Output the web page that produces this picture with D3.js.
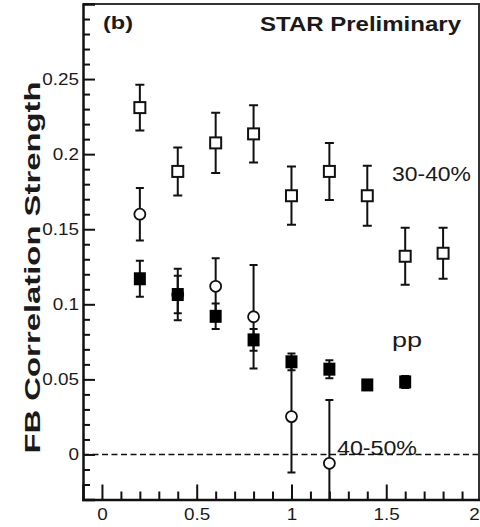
<!DOCTYPE html>
<html>
<head>
<meta charset="utf-8">
<script src="https://cdn.jsdelivr.net/npm/d3@7"></script>
<style>
  body { margin: 0; background: #fff; }
  svg text { font-family: "Liberation Sans", Arial, sans-serif; fill: #1a1a1a; }
</style>
</head>
<body>
<script>
// data
const xCentral = [0.2, 0.4, 0.6, 0.8, 1.0, 1.2, 1.4, 1.6, 1.8]
const yCentral = [0.231, 0.1885, 0.2075, 0.2135, 0.1723, 0.1885, 0.1723, 0.132, 0.134]
const eCentral = [0.0153, 0.016, 0.02, 0.019, 0.0194, 0.019, 0.02, 0.019, 0.017]

const xPP = [0.2, 0.4, 0.6, 0.8, 1.0, 1.2, 1.4, 1.6]
const yPP = [0.117, 0.1065, 0.092, 0.0763, 0.0617, 0.0568, 0.0463, 0.0483]
const ePP = [0.012, 0.0125, 0.0085, 0.0072, 0.0056, 0.006, 0.003, 0.004]

const xPeri = [0.2, 0.4, 0.6, 0.8, 1.0, 1.2]
const yPeri = [0.160, 0.1065, 0.112, 0.0917, 0.0252, -0.0059]
const ePeri = [0.0175, 0.0172, 0.0186, 0.0344, 0.0373, 0.0422]

const xMajor = [0, 0.5, 1, 1.5, 2]
const yMajor = [0, 0.05, 0.1, 0.15, 0.2, 0.25]

const w = 480, h = 527
const padL = 83, padT = 4, axisY = 499.5, padR = 479

const svg = d3.select('body').append('svg')
  .attr('width', w).attr('height', h)

const x = d3.scaleLinear().domain([-0.1, 2.0]).range([padL, 481])
const y = d3.scaleLinear().domain([-0.03, 0.3]).range([axisY, padT])

svg.append('clipPath').attr('id', 'plot')
  .append('rect').attr('x', padL).attr('y', padT).attr('width', padR - padL).attr('height', axisY - padT)

// zero line
svg.append('line')
  .attr('x1', padL).attr('x2', padR)
  .attr('y1', y(0)).attr('y2', y(0))
  .attr('stroke', '#111').attr('stroke-width', 1.5)
  .attr('stroke-dasharray', '6,3.5')

// frame (top and right)
svg.append('path')
  .attr('d', `M${padL},${padT}H${padR}V${axisY}`)
  .attr('fill', 'none').attr('stroke', '#333').attr('stroke-width', 2)

// axes, ticks pointing inward
const fmt = d => d === 0 ? '0' : d3.format('~g')(d)
svg.append('g').attr('transform', `translate(${padL},0)`)
  .call(d3.axisLeft(y).tickValues(yMajor).tickSize(-12).tickPadding(4).tickFormat(fmt))
svg.append('g').attr('transform', `translate(${padL},0)`)
  .call(d3.axisLeft(y).tickValues(d3.range(-0.03, 0.295, 0.01).filter(v => Math.abs(Math.round(v * 100) % 5) !== 0)).tickSize(-7).tickFormat(''))
  .select('.domain').remove()

const gx = svg.append('g').attr('transform', `translate(0,${axisY})`)
  .call(d3.axisBottom(x).tickValues(xMajor).tickSize(-15).tickPadding(9).tickFormat(fmt))
svg.append('g').attr('transform', `translate(0,${axisY})`)
  .call(d3.axisBottom(x).tickValues(d3.range(0.1, 2.0, 0.1).filter(v => Math.round(v * 10) % 5 !== 0)).tickSize(-8).tickFormat(''))
  .select('.domain').remove()

svg.selectAll('.domain').attr('stroke', '#111').attr('stroke-width', 2.5)
svg.selectAll('.tick line').attr('stroke', '#111').attr('stroke-width', 2)
svg.selectAll('.tick text').attr('font-size', 16).attr('fill', '#222')
  .attr('font-family', '"Liberation Sans", Arial, sans-serif')
  .each(function () {
    const len = this.getComputedTextLength()
    d3.select(this).attr('textLength', len * 1.18).attr('lengthAdjust', 'spacingAndGlyphs')
  })
// last label sits at the page edge, nudge it in
gx.selectAll('.tick text').filter(d => d === 2).attr('x', -7)

// error bars
const errorBars = (xs, ys, es, cap) => {
  const g = svg.append('g').attr('clip-path', 'url(#plot)')
    .attr('stroke', '#111').attr('stroke-width', 2)
  xs.forEach((xv, i) => {
    const hi = y(ys[i] + es[i]), lo = y(ys[i] - es[i]), cx = x(xv)
    g.append('line').attr('x1', cx).attr('x2', cx).attr('y1', hi).attr('y2', lo)
    g.append('line').attr('x1', cx - cap).attr('x2', cx + cap).attr('y1', hi).attr('y2', hi)
    g.append('line').attr('x1', cx - cap).attr('x2', cx + cap).attr('y1', lo).attr('y2', lo)
  })
}

// 40-50% open circles (drawn first, pp squares cover them)
errorBars(xPeri, yPeri, ePeri, 4)
svg.append('g').selectAll('circle')
  .data(xPeri).enter().append('circle')
  .attr('cx', d => x(d))
  .attr('cy', (d, i) => y(yPeri[i]))
  .attr('r', 5.5)
  .attr('fill', '#fff').attr('stroke', '#111').attr('stroke-width', 1.8)

// pp filled squares
errorBars(xPP, yPP, ePP, 4)
svg.append('g').selectAll('rect')
  .data(xPP).enter().append('rect')
  .attr('x', d => x(d) - 6)
  .attr('y', (d, i) => y(yPP[i]) - 6.5)
  .attr('width', 12).attr('height', 13)
  .attr('fill', '#000')

// 30-40% open squares
errorBars(xCentral, yCentral, eCentral, 4.5)
svg.append('g').selectAll('rect')
  .data(xCentral).enter().append('rect')
  .attr('x', d => x(d) - 5.5)
  .attr('y', (d, i) => y(yCentral[i]) - 5.5)
  .attr('width', 11).attr('height', 11)
  .attr('fill', '#fff').attr('stroke', '#111').attr('stroke-width', 2)

// labels
const label = (txt, px, py, size, weight, len) => {
  svg.append('text').text(txt)
    .attr('x', px).attr('y', py)
    .attr('font-size', size).attr('font-weight', weight)
    .attr('textLength', len).attr('lengthAdjust', 'spacingAndGlyphs')
}
label('(b)', 103, 29, 19, 'bold', 30)
label('STAR Preliminary', 260, 31, 20, 'bold', 201)
label('30-40%', 392, 181, 20, 'normal', 79)
label('pp', 392, 347, 20, 'normal', 30)
label('40-50%', 337, 455, 20, 'normal', 80)

svg.append('text').text('FB Correlation Strength')
  .attr('transform', 'translate(39.5,267.5) rotate(-90)')
  .attr('text-anchor', 'middle')
  .attr('font-size', 22).attr('font-weight', 'bold')
  .attr('textLength', 372).attr('lengthAdjust', 'spacingAndGlyphs')
</script>
</body>
</html>
